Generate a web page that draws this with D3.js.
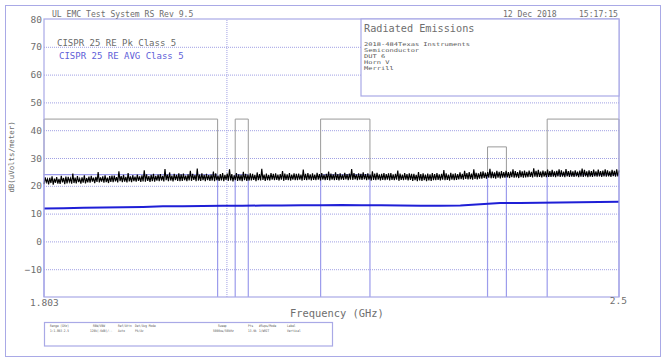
<!DOCTYPE html>
<html>
<head>
<meta charset="utf-8">
<script src="https://cdn.jsdelivr.net/npm/d3@7"></script>
<style>
  html, body { margin: 0; padding: 0; background: #fff; }
  svg { display: block; }
  text { font-family: "DejaVu Sans Mono", "Liberation Mono", monospace; }
</style>
</head>
<body>
<svg id="chart" width="671" height="360"></svg>
<script>
// ---------------- DATA ----------------
const freqStart = 1.803, freqEnd = 2.5;           // GHz
const yTicks = [80, 70, 60, 50, 40, 30, 20, 10, 0, -10];
const xTickLabels = ["1.803", "2.5"];
const gridFreqs = [2.0];

// CISPR 25 Class 5 limit bands (GHz)
const bandStart = [1.803, 2.010, 2.110, 2.320, 2.400];
const bandEnd   = [1.990, 2.025, 2.170, 2.345, 2.500];
const peakLimit = [44, 44, 44, 34, 44];
const avgLimit  = [24, 24, 24, 24, 24];

// Peak detector trace (dBuV/m), sweep points evenly spaced across the display
const peakValues = [
  20.6,23.0,21.3,22.4,20.5,22.9,21.0,23.4,20.4,22.6,21.1,23.1,20.8,22.5,20.7,23.6,21.2,22.8,20.6,23.3,
  20.9,23.2,21.4,22.7,20.8,24.4,21.0,22.9,20.9,23.5,21.3,22.6,20.8,23.0,21.1,23.8,20.9,22.8,21.2,23.3,
  21.1,23.6,21.5,22.9,21.0,23.2,21.4,24.9,21.2,23.0,21.5,23.4,21.1,23.8,21.3,22.9,21.0,23.5,21.4,23.7,
  21.3,23.7,21.6,23.1,21.2,25.2,21.7,23.5,21.3,23.9,21.5,23.2,21.2,24.6,21.6,23.4,21.3,23.8,21.7,23.3,
  21.5,24.0,21.8,23.4,21.4,23.8,21.6,25.6,21.5,24.1,21.8,23.5,21.4,23.9,21.7,24.3,21.5,23.6,21.9,24.0,
  21.7,24.2,21.9,23.6,21.6,26.0,22.0,24.0,21.7,24.8,21.9,23.7,21.6,24.3,22.0,23.9,21.8,24.5,21.7,24.1,
  21.8,24.4,22.0,23.7,21.7,24.1,21.9,25.4,21.8,24.3,22.1,23.8,21.7,26.2,21.9,24.0,21.8,24.5,22.0,23.9,
  21.7,24.3,22.0,23.8,21.8,24.0,21.9,25.1,21.7,24.5,22.0,23.7,21.8,24.2,21.9,24.6,21.7,23.9,22.1,24.4,
  21.8,25.9,21.9,24.2,21.6,23.8,22.0,24.6,21.8,24.1,21.9,23.9,21.7,25.0,22.0,24.3,21.8,24.0,21.9,24.5,
  21.9,24.3,22.1,23.9,21.7,24.8,22.0,24.2,21.9,26.1,22.1,24.0,21.8,24.4,22.0,23.9,21.9,24.6,22.2,24.3,
  22.0,24.5,22.1,24.0,21.9,24.2,22.2,25.3,21.8,24.4,22.1,24.1,22.0,24.6,21.9,24.0,22.2,24.5,22.0,24.3,
  22.0,24.4,22.2,24.0,21.9,25.8,22.1,24.3,22.0,24.6,22.2,24.1,21.9,24.5,22.1,24.0,22.0,24.7,22.2,24.2,
  21.9,24.6,22.2,24.0,22.0,24.3,22.1,25.1,21.9,24.4,22.2,24.1,22.0,24.8,22.1,24.2,21.9,24.5,22.2,24.0,
  22.1,24.7,22.3,24.2,22.0,24.4,22.2,26.0,22.1,24.6,22.3,24.1,22.0,24.5,22.2,24.3,22.1,24.8,22.3,24.2,
  22.0,24.5,22.2,24.0,21.9,25.2,22.1,24.4,22.0,24.7,22.2,24.1,21.9,24.3,22.1,24.6,22.0,24.2,22.2,24.5,
  21.9,24.6,22.1,24.1,22.0,24.3,22.2,25.5,21.8,24.4,22.1,24.0,22.0,24.6,22.2,24.2,21.9,24.5,22.1,24.3,
  21.8,24.3,22.0,23.9,21.7,24.9,21.9,24.2,21.8,24.5,22.0,24.0,21.7,24.4,21.9,24.1,21.8,24.6,22.0,24.2,
  22.0,24.6,22.1,24.1,21.9,24.3,22.2,25.7,22.0,24.5,22.1,24.0,21.9,24.7,22.2,24.3,22.0,24.5,22.1,24.2,
  22.3,24.8,22.4,24.3,22.2,25.4,22.5,24.6,22.3,24.9,22.4,24.4,22.2,25.9,22.5,24.7,22.3,24.5,22.6,25.0,
  22.6,25.2,22.8,24.7,22.6,24.9,22.9,26.1,22.7,25.1,22.8,24.8,22.6,25.4,22.9,25.0,22.7,25.3,22.9,24.9,
  22.9,25.4,23.0,24.9,22.8,25.1,23.1,25.9,22.9,25.3,23.0,24.9,22.8,25.6,23.1,25.2,22.9,25.5,23.0,25.0,
  23.1,25.5,23.2,25.0,23.0,26.3,23.3,25.4,23.1,25.7,23.2,25.1,23.0,25.5,23.3,25.2,23.1,25.8,23.2,25.3,
  23.2,25.7,23.3,25.2,23.1,25.4,23.4,25.9,23.2,25.6,23.3,25.1,23.1,26.0,23.4,25.3,23.2,25.6,23.3,25.2,
  23.2,25.6,23.4,25.1,23.1,25.5,23.3,26.2,23.2,25.7,23.4,25.2,23.1,25.6,23.3,25.3,23.2,25.8,23.4,25.2,
  23.3,25.8,23.4,25.3,23.2,25.5,23.4,25.9,23.3,25.6,23.4,25.2,23.2,25.7,23.5,25.4,23.3,25.9,23.4,25.5
];

// Average detector trace (dBuV/m)
const avgValues = [
  11.8, 11.9, 12.1, 12.2, 12.3, 12.4, 12.6, 12.6, 12.7, 12.8,
  12.8, 12.9, 12.9, 13.0, 13.0, 13.1, 13.0, 13.0, 12.9, 12.8,
  12.8, 12.9, 13.4, 13.8, 13.8, 13.9, 14.0, 14.1, 14.2, 14.3
];

const legendLabels = ["CISPR 25 RE Pk Class 5", "CISPR 25 RE AVG Class 5"];
const titleText = "UL EMC Test System RS Rev 9.5";
const dateText = "12 Dec 2018";
const timeText = "15:17:15";
const infoTitle = "Radiated Emissions";
const infoLines = ["2018-484Texas Instruments", "Semiconductor", "DUT 6", "Horn V", "Merrill"];
const xLabel = "Frequency (GHz)";
const yLabel = "dB(uVolts/meter)";
const setupHeaders = ["Range (GHz)", "RBW/VBW", "Ref/Attn", "Det/Avg Mode", "Sweep", "Pts", "#Swps/Mode", "Label"];
const setupValues  = ["1:1.803-2.5", "120k(-6dB)/--", "Auto", "Pk/Av", "5000us/50kHz", "13.9k", "1/WRIT", "Vertical"];

// ---------------- LAYOUT ----------------
const W = 671, H = 360;
const margin = { left: 44, right: 52, top: 19, bottom: 63 };
const frameCol = "#a9a9e6";
const gridCol = "#a0a0e4";
const textCol = "#6e6e6e";
const limitCol = "#9a9a9a";
const avgLimitCol = "#9c9cec";

const svg = d3.select("#chart");
const x = d3.scaleLog().domain([freqStart, freqEnd]).range([margin.left, W - margin.right]);
const y = d3.scaleLinear().domain([-20, 80]).range([H - margin.bottom, margin.top]);

// outer border
svg.append("rect").attr("x", 5.5).attr("y", 5.5).attr("width", 655).attr("height", 351)
  .attr("fill", "none").attr("stroke", frameCol).attr("stroke-width", 1);

// horizontal grid (dotted)
const gY = d3.axisLeft(y).tickValues(yTicks.filter(v => v < 80)).tickSize(-(W - margin.left - margin.right)).tickFormat("");
svg.append("g").attr("transform", `translate(${margin.left},0)`).call(gY)
  .call(g => g.select(".domain").remove())
  .call(g => g.selectAll("line").attr("stroke", gridCol).attr("stroke-width", 1).attr("stroke-dasharray", "1,1"));

// vertical grid (dotted)
const gX = d3.axisBottom(x).tickValues(gridFreqs).tickSize(-(H - margin.top - margin.bottom)).tickFormat("");
svg.append("g").attr("transform", `translate(0,${H - margin.bottom})`).call(gX)
  .call(g => g.select(".domain").remove())
  .call(g => g.selectAll("line").attr("stroke", gridCol).attr("stroke-width", 1).attr("stroke-dasharray", "1,1"));

// y tick labels
const yAx = d3.axisLeft(y).tickValues(yTicks).tickSize(0).tickPadding(2).tickFormat(d3.format("d"));
svg.append("g").attr("transform", `translate(${margin.left},0)`).call(yAx)
  .call(g => g.select(".domain").remove())
  .call(g => g.selectAll("text").attr("fill", textCol).attr("font-size", 9.5)
    .attr("font-family", "'DejaVu Sans Mono', monospace"));

// band limit lines
const bands = bandStart.map((s, i) => ({ s, e: bandEnd[i], pk: peakLimit[i], av: avgLimit[i] }));
const yBottom = y(-20);

// average limits (blue) – drawn under traces
svg.append("g").selectAll("path").data(bands).join("path")
  .attr("d", d => `M${x(d.s)},${yBottom}V${y(d.av)}H${x(d.e)}V${yBottom}`)
  .attr("fill", "none").attr("stroke", avgLimitCol).attr("stroke-width", 1.2);

// peak limits (gray)
svg.append("g").selectAll("path").data(bands).join("path")
  .attr("d", d => `M${x(d.s)},${y(d.av)}V${y(d.pk)}H${x(d.e)}V${y(d.av)}`)
  .attr("fill", "none").attr("stroke", limitCol).attr("stroke-width", 1);

// traces
const logStart = Math.log10(freqStart), logEnd = Math.log10(freqEnd);
const sweep = n => d3.range(n).map(i => Math.pow(10, logStart + (logEnd - logStart) * i / (n - 1)));
const peakFreqs = sweep(peakValues.length);
const avgFreqs = sweep(avgValues.length);

const line = d3.line().x(d => x(d[0])).y(d => y(d[1]));

svg.append("path").datum(avgFreqs.map((f, i) => [f, avgValues[i]]))
  .attr("d", line).attr("fill", "none")
  .attr("stroke", "#1f1fd6").attr("stroke-width", 2);

svg.append("path").datum(peakFreqs.map((f, i) => [f, peakValues[i]]))
  .attr("d", line).attr("fill", "none")
  .attr("stroke", "#000").attr("stroke-width", 1.15);

// plot frame
svg.append("rect").attr("x", margin.left).attr("y", margin.top)
  .attr("width", W - margin.left - margin.right).attr("height", H - margin.top - margin.bottom)
  .attr("fill", "none").attr("stroke", frameCol).attr("stroke-width", 1.2);

// info box
const ib = { x0: 361, x1: W - margin.right, y0: margin.top, y1: 96 };
svg.append("rect").attr("x", ib.x0).attr("y", ib.y0).attr("width", ib.x1 - ib.x0).attr("height", ib.y1 - ib.y0)
  .attr("fill", "#fff").attr("stroke", frameCol).attr("stroke-width", 1.2);
svg.append("text").attr("x", ib.x0 + 3).attr("y", 32).attr("font-size", 10.2).attr("fill", textCol).text(infoTitle);
svg.append("g").selectAll("text").data(infoLines).join("text")
  .attr("x", ib.x0 + 3).attr("y", (d, i) => 45.5 + i * 6).attr("font-size", 5.1)
  .attr("textLength", d => d.length * 4.24).attr("lengthAdjust", "spacingAndGlyphs")
  .attr("fill", "#555").text(d => d);

// titles
svg.append("text").attr("x", 52).attr("y", 17).attr("font-size", 8.1).attr("fill", textCol).text(titleText);
svg.append("text").attr("x", 503).attr("y", 16.5).attr("font-size", 8.1).attr("fill", textCol).text(dateText);
svg.append("text").attr("x", 579).attr("y", 16.5).attr("font-size", 8.1).attr("fill", textCol).text(timeText);

// legend
svg.append("text").attr("x", 57).attr("y", 46).attr("font-size", 9).attr("fill", "#6a6a6a").text(legendLabels[0]);
svg.append("text").attr("x", 59).attr("y", 59).attr("font-size", 9).attr("fill", "#6060d8").text(legendLabels[1]);

// x labels
svg.append("text").attr("x", 30).attr("y", 306).attr("font-size", 9.5).attr("fill", textCol).text(xTickLabels[0]);
svg.append("text").attr("x", 627).attr("y", 304).attr("text-anchor", "end").attr("font-size", 9.5).attr("fill", textCol).text(xTickLabels[1]);
svg.append("text").attr("x", 290).attr("y", 317).attr("font-size", 10.4).attr("fill", textCol).text(xLabel);

// y label
svg.append("text").attr("transform", "translate(14,157) rotate(-90)").attr("text-anchor", "middle")
  .attr("font-size", 7.4).attr("fill", textCol).text(yLabel);

// setup box
svg.append("rect").attr("x", 44.5).attr("y", 322.5).attr("width", 288).attr("height", 23.5)
  .attr("fill", "none").attr("stroke", frameCol).attr("stroke-width", 1.2);
const colX = [50, 90, 118, 135, 213, 248, 259, 287];
const hdrX = [50, 93, 118, 135, 218, 248, 259, 287];
const setupText = (sel, yy, xs) => sel.join("text")
  .attr("x", (d, i) => xs[i]).attr("y", yy).attr("font-size", 3.5)
  .attr("font-family", "'Liberation Sans', Arial, sans-serif")
  .attr("textLength", d => d.length * 1.72).attr("lengthAdjust", "spacingAndGlyphs")
  .attr("fill", "#555").text(d => d);
setupText(svg.append("g").selectAll("text").data(setupHeaders), 327.3, hdrX);
setupText(svg.append("g").selectAll("text").data(setupValues), 332, colX);
</script>
</body>
</html>
